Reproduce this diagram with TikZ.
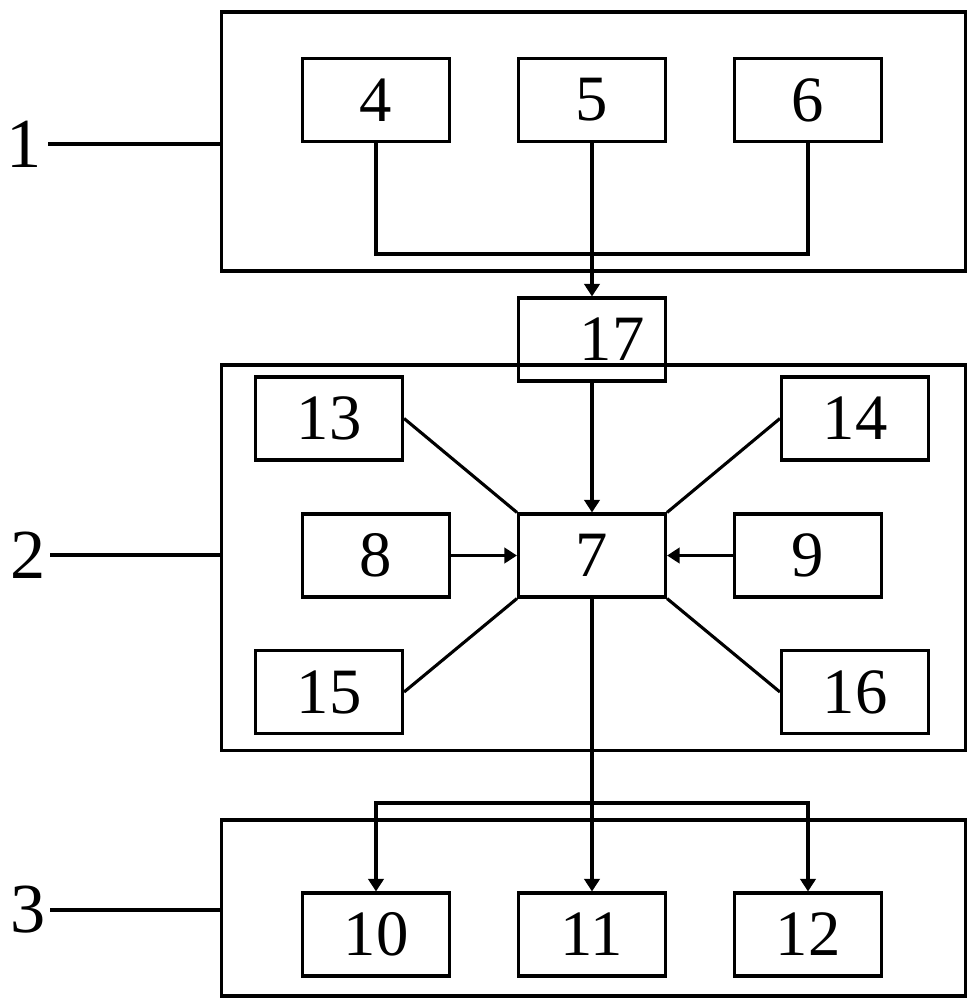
\documentclass[tikz,border=0pt]{standalone}
\usepackage{fontspec}
\setmainfont{Liberation Serif}
\usetikzlibrary{arrows.meta}

\tikzset{
  unit/.style={draw, line width=2.2pt, minimum width=3.675cm, minimum height=2.075cm,
    inner sep=0pt, font=\fontsize{46}{48}\selectfont},
  group/.style={draw, line width=2.2pt, inner sep=0pt},
  tag/.style={inner sep=0pt, font=\fontsize{50}{52}\selectfont},
  wire/.style={line width=2.2pt},
}

\begin{document}
\begin{tikzpicture}[x=0.025cm, y=-0.025cm, >={Triangle[width=11pt,length=9pt]}]
  \useasboundingbox (0,0) rectangle (979,1006);
  % the three groups
  \node[group, minimum width=18.575cm, minimum height=6.475cm] (G1) at (593.5,141.5) {};
  \node[group, minimum width=18.575cm, minimum height=9.625cm] (G2) at (593.5,557.5) {};
  \node[group, minimum width=18.575cm, minimum height=4.4cm] (G3) at (593.5,908) {};
  \node[tag, anchor=east] (T1) at (42,144) {1};
  \node[tag, anchor=east] (T2) at (46,555) {2};
  \node[tag, anchor=east] (T3) at (46,910) {3};
  \draw[wire] ([xshift=0.15cm]T1.east) -- (T1.east -| G1.west);
  \draw[wire] ([xshift=0.1cm]T2.east) -- (T2.east -| G2.west);
  \draw[wire] ([xshift=0.1cm]T3.east) -- (T3.east -| G3.west);

  % group 1
  \node[unit] (n4) at (376,100) {4};
  \node[unit] (n5) at (592,100) {5};
  \node[unit] (n6) at (808,100) {6};
  \node[unit] (n17) at (592,339.5) {\hspace{1cm}17};
  \coordinate (bus1) at (592,254);
  \draw[wire] (n4.south) |- (bus1) -| (n6.south);
  \draw[wire,->] (n5.south) -- (n17.north);

  % group 2
  \node[unit] (n7) at (592,555.5) {7};
  \node[unit] (n8) at (376,555.5) {8};
  \node[unit] (n9) at (808,555.5) {9};
  \node[unit] (n13) at (329,418.5) {13};
  \node[unit] (n14) at (855,418.5) {14};
  \node[unit] (n15) at (329,692) {15};
  \node[unit] (n16) at (855,692) {16};
  \draw[wire,->] (n17.south) -- (n7.north);
  \draw[wire,->] (n8.east) -- (n7.west);
  \draw[wire,->] (n9.west) -- (n7.east);
  \draw[wire] (n13.east) -- (n7.north west);
  \draw[wire] (n14.west) -- (n7.north east);
  \draw[wire] (n15.east) -- (n7.south west);
  \draw[wire] (n16.west) -- (n7.south east);

  % group 3
  \node[unit] (n10) at (376,934.5) {10};
  \node[unit] (n11) at (592,934.5) {11};
  \node[unit] (n12) at (808,934.5) {12};
  \coordinate (bus3) at (592,803);
  \draw[wire,->] (n7.south) -- (n11.north);
  \draw[wire,->] (bus3) -| (n10.north);
  \draw[wire,->] (bus3) -| (n12.north);
\end{tikzpicture}
\end{document}
